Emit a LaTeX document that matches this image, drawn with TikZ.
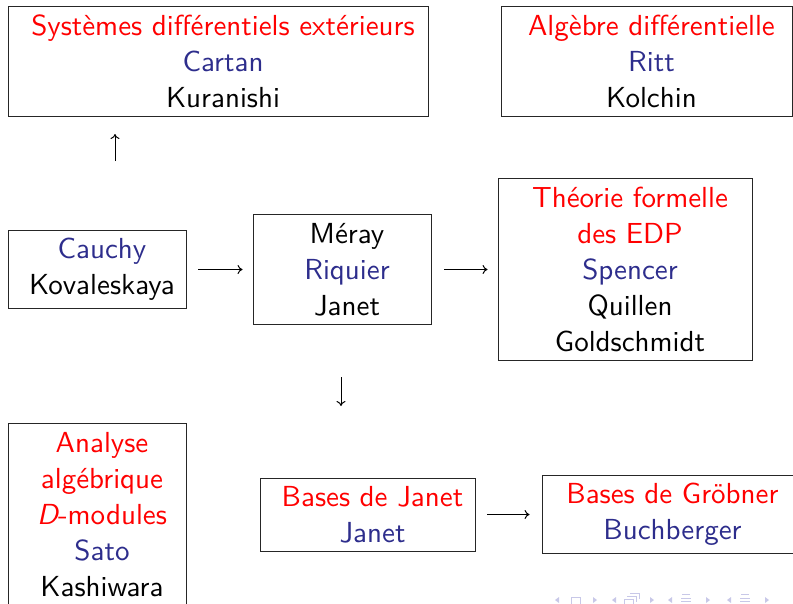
\documentclass[tikz,border=0pt]{standalone}
\usetikzlibrary{arrows.meta}
\definecolor{myred}{RGB}{255,0,0}
\definecolor{myblue}{RGB}{45,45,140}
\definecolor{navcol}{RGB}{200,200,232}
\font\bigss="[lmsans10-regular]:mapping=tex-text" at 29pt
\font\bigssit="[lmsans10-oblique]:mapping=tex-text" at 29pt
\newcommand\shl[1]{\hspace*{10pt}#1}
\newcommand\rd[1]{\shl{\textcolor{myred}{#1}}}
\newcommand\bl[1]{\shl{\textcolor{myblue}{#1}}}
\begin{document}
\begin{tikzpicture}[x=1pt,y=-1pt,
  box/.style={draw=black!85,line width=0.9pt,inner sep=0pt,align=center,
    font=\fontsize{29}{36}\selectfont\bigss},
  arr/.style={line width=1pt,-{Computer Modern Rightarrow[length=5pt,width=9pt,line width=1pt]}},
  navtri/.style={fill=navcol,draw=none},
  navbox/.style={draw=navcol,line width=0.8pt}
]
\useasboundingbox (0,0) rectangle (793,603);
% boxes
\node[box,minimum width=420pt,minimum height=110pt] (sde) at (218,61)
  {\rd{Systèmes différentiels extérieurs}\\\bl{Cartan}\\\shl{Kuranishi}};
\node[box,minimum width=291pt,minimum height=110pt] (alg) at (646.5,61)
  {\rd{Algèbre différentielle}\\\bl{Ritt}\\\shl{Kolchin}};
\node[box,minimum width=178pt,minimum height=78pt] (cauchy) at (97,269.5)
  {\bl{Cauchy}\\\shl{Kovaleskaya}};
\node[box,minimum width=178pt,minimum height=110pt] (meray) at (342,269.5)
  {\shl{Méray}\\\bl{Riquier}\\\shl{Janet}};
\node[box,minimum width=254pt,minimum height=182pt] (theo) at (625,269.5)
  {\rd{Théorie formelle}\\\rd{des EDP}\\\bl{Spencer}\\\shl{Quillen}\\\shl{Goldschmidt}};
\node[box,minimum width=178pt,minimum height=182pt] (ana) at (97,514.5)
  {\rd{Analyse}\\\rd{algébrique}\\\rd{{\bigssit D}-modules}\\\bl{Sato}\\\shl{Kashiwara}};
\node[box,minimum width=215pt,minimum height=73pt] (bjanet) at (367.5,514.5)
  {\rd{Bases de Janet}\\\bl{Janet}};
\node[box,minimum width=251pt,minimum height=78pt] (bgrob) at (667.5,514.5)
  {\rd{Bases de Gröbner}\\\bl{Buchberger}};
% arrows
\draw[arr,shorten <=12pt,shorten >=10pt] (cauchy.east) -- (meray.west);
\draw[arr,shorten <=13pt,shorten >=10pt] (meray.east) -- (theo.west);
\draw[arr,shorten <=12pt,shorten >=12pt] (bjanet.east) -- (bgrob.west);
\coordinate (upS) at (115,161);
\coordinate (upE) at (115,134);
\draw[arr] (upS) -- (upE);
\coordinate (dnS) at (341,377);
\coordinate (dnE) at (341,406);
\draw[arr] (dnS) -- (dnE);
% navigation symbols
\foreach \x in {555,612,668,727}{\fill[navtri] (\x,600) -- (\x+4,597) -- (\x+4,603) -- cycle;}
\foreach \x in {593,650,706,765}{\fill[navtri] (\x+4,600) -- (\x,597) -- (\x,603) -- cycle;}
\draw[navbox] (571,597) rectangle (580,604);
\draw[navbox] (624,599) rectangle (633,605);
\draw[navbox] (627,596) -- (636,596) -- (636,602);
\draw[navbox] (630,593) -- (639,593) -- (639,599);
\foreach \x in {686,745}{
  \draw[navbox] (\x-4,594) -- (\x+4,594);
  \draw[navbox] (\x-5,598) -- (\x+5,598);
  \draw[navbox] (\x-5,601) -- (\x+5,601);
}
\end{tikzpicture}
\end{document}
